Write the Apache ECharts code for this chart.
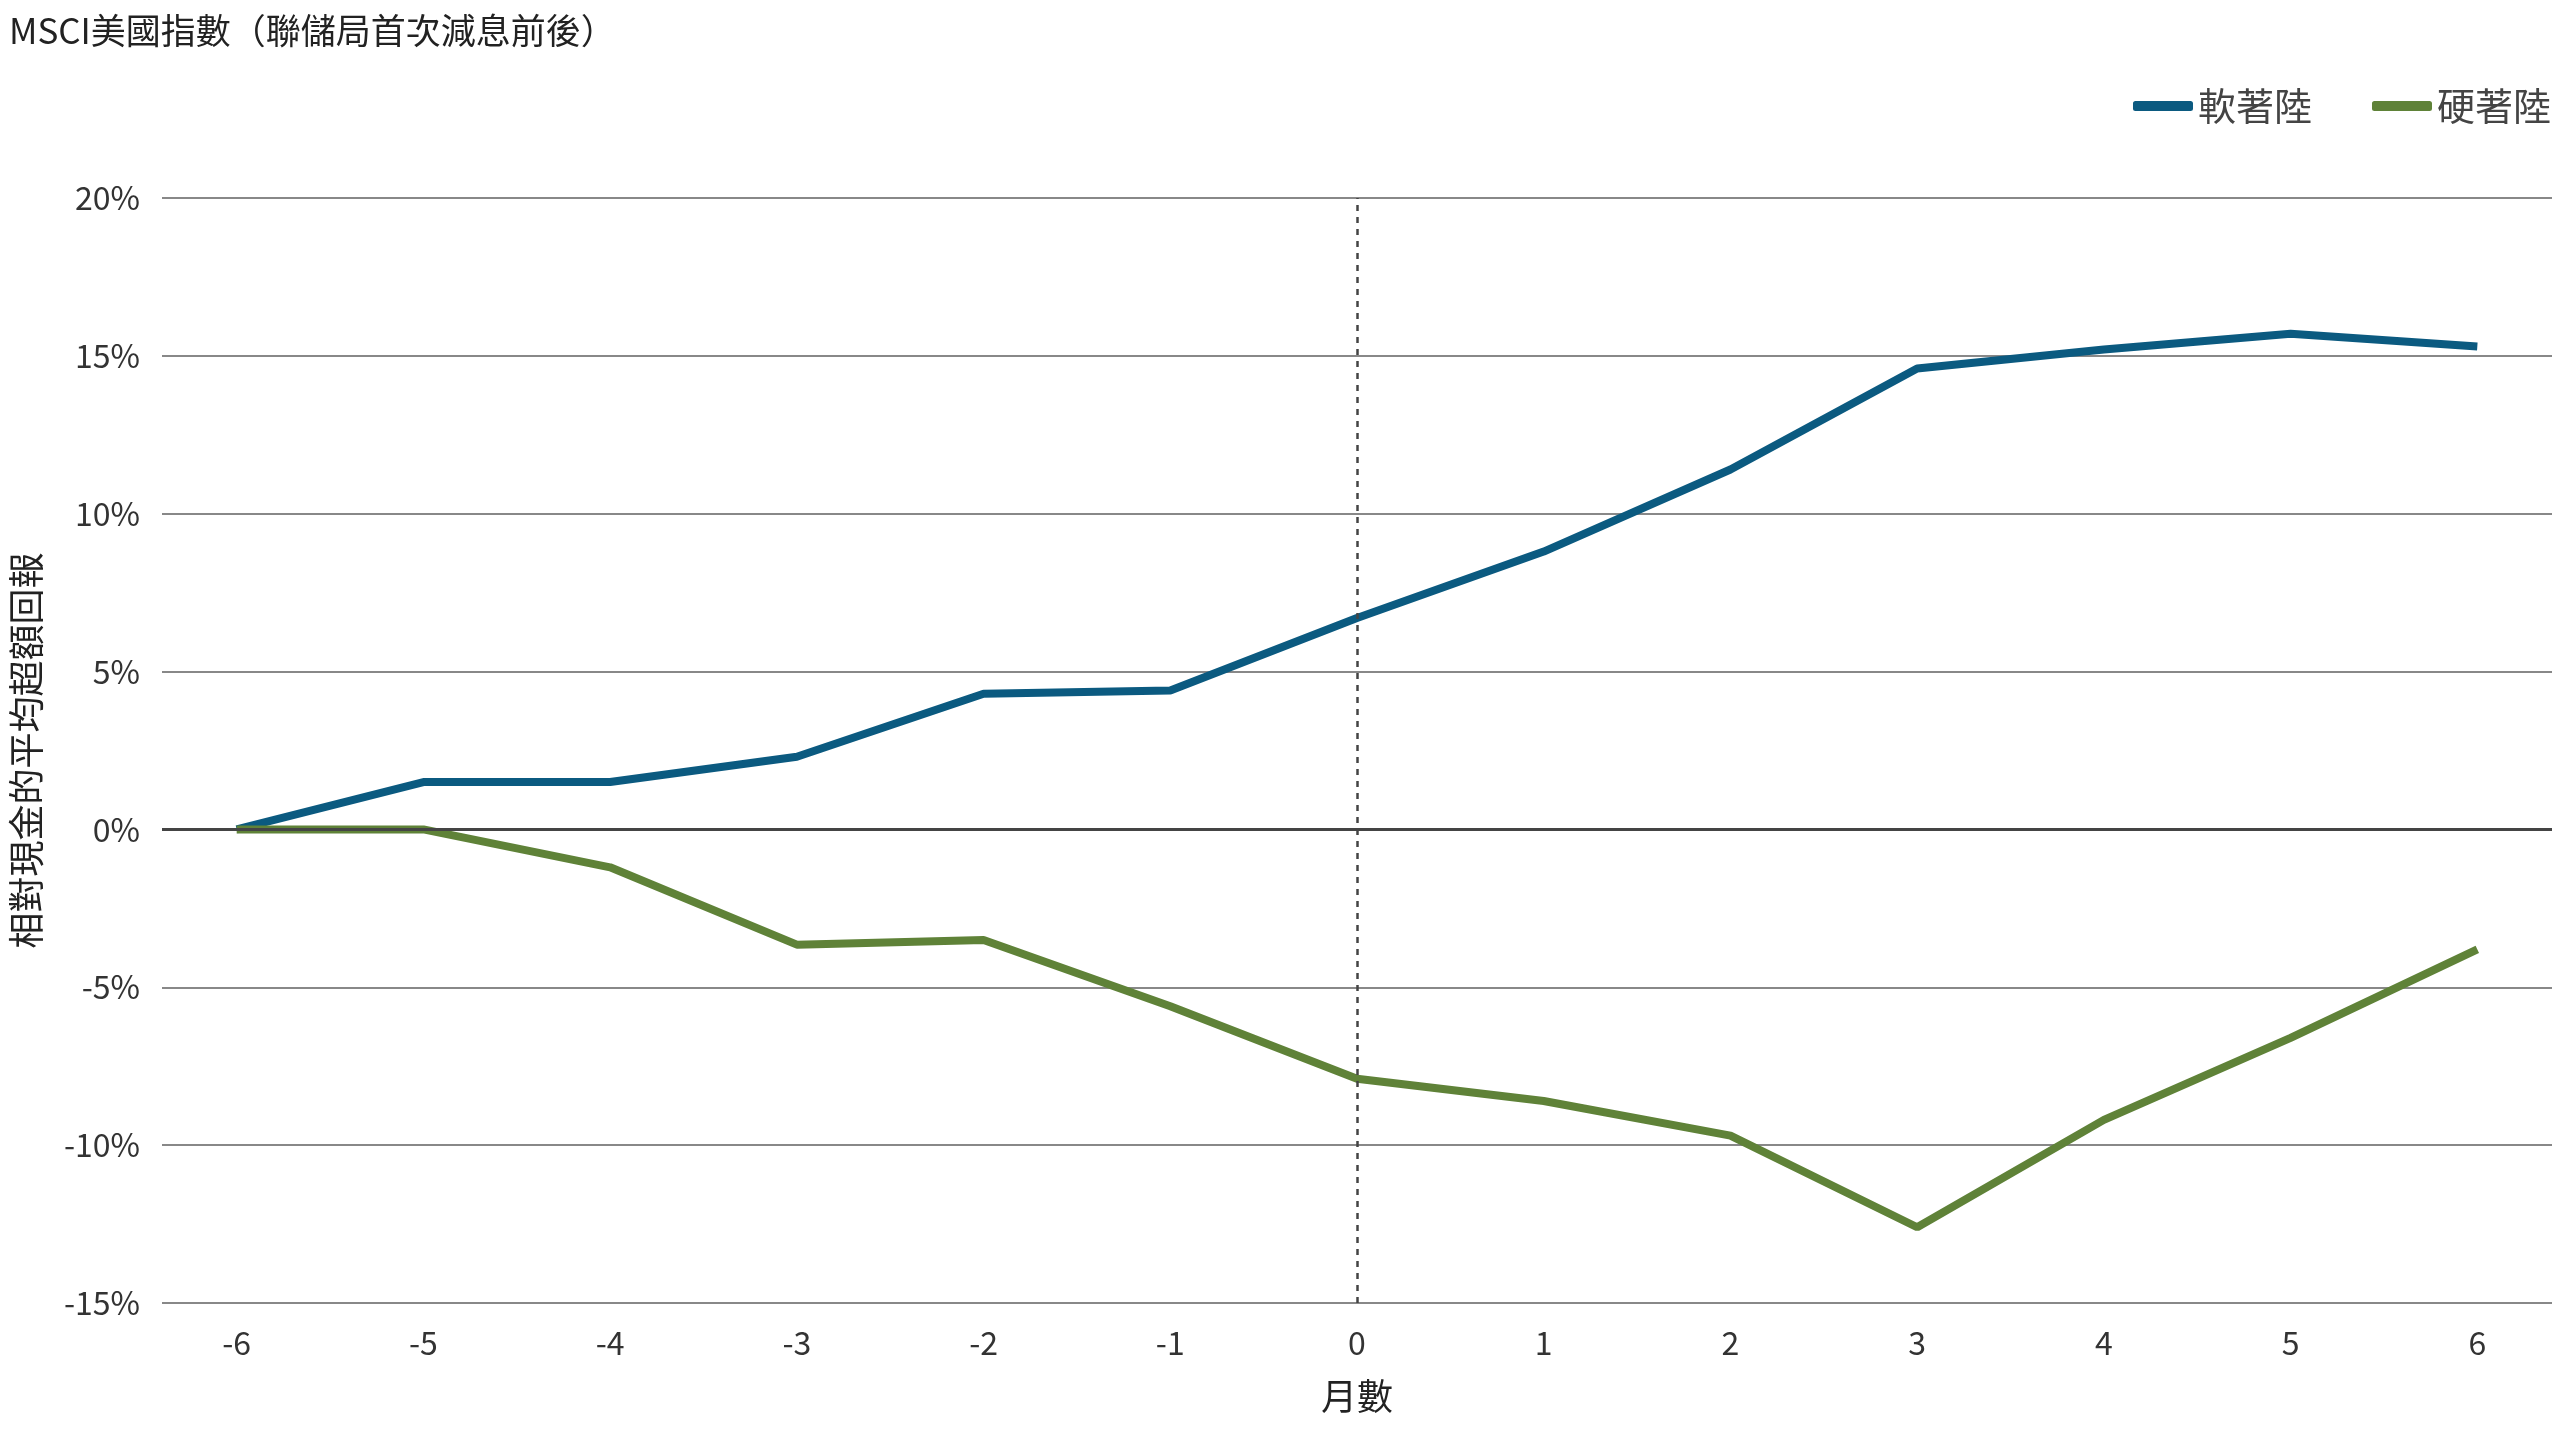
<!DOCTYPE html>
<html><head><meta charset="utf-8">
<script src="https://cdn.jsdelivr.net/npm/echarts@6/dist/echarts.min.js"></script>
<style>html,body{margin:0;padding:0;background:#fff}#c{width:2560px;height:1440px}</style>
</head><body><div id="c"></div>
<script>
const months=[-6,-5,-4,-3,-2,-1,0,1,2,3,4,5,6];
const softLanding=[0,1.5,1.5,2.3,4.3,4.4,6.7,8.8,11.4,14.6,15.2,15.7,15.3];
const hardLanding=[0,0,-1.2,-3.65,-3.5,-5.6,-7.9,-8.6,-9.7,-12.6,-9.2,-6.6,-3.8];
const yTicks=[-15,-10,-5,0,5,10,15,20];
const F='"Noto Sans CJK TC","Noto Sans",sans-serif';
const chart=echarts.init(document.getElementById('c'));
chart.setOption({
  animation:false,
  title:{text:'MSCI美國指數（聯儲局首次減息前後）',left:4,top:8,textStyle:{fontFamily:F,fontSize:35,fontWeight:'normal',color:'#222'}},
  legend:{right:4,top:82,itemWidth:60,itemHeight:10,itemGap:60,icon:'roundRect',textStyle:{fontFamily:F,fontSize:38,color:'#444'},data:['軟著陸','硬著陸']},
  grid:{left:155,right:8,top:198,bottom:137},
  xAxis:{type:'value',min:-6.4,max:6.4,name:'月數',nameLocation:'middle',nameGap:75,
    nameTextStyle:{fontFamily:F,fontSize:36,color:'#222'},
    axisLine:{show:false},axisTick:{show:false},splitLine:{show:false},
    axisLabel:{customValues:months,fontFamily:F,fontSize:32,color:'#333',margin:24}},
  yAxis:{type:'value',min:-15,max:20,interval:5,name:'相對現金的平均超額回報',nameLocation:'middle',nameGap:118,
    nameTextStyle:{fontFamily:F,fontSize:36,color:'#222'},
    axisLine:{show:false},axisTick:{show:false},
    axisLabel:{formatter:'{value}%',fontFamily:F,fontSize:32,color:'#333',margin:22},
    splitLine:{lineStyle:{color:'#888',width:2}}},
  series:[
    {name:'軟著陸',type:'line',data:months.map((m,i)=>[m,softLanding[i]]),symbol:'none',lineStyle:{width:8,color:'#0b5a80'},itemStyle:{color:'#0b5a80'},z:3,
     markLine:{silent:true,symbol:'none',label:{show:false},data:[{xAxis:0,lineStyle:{type:[6,6],color:'#444',width:2.5}},{yAxis:0,lineStyle:{type:'solid',color:'#444',width:3}}]}},
    {name:'硬著陸',type:'line',data:months.map((m,i)=>[m,hardLanding[i]]),symbol:'none',lineStyle:{width:8,color:'#5f8238'},itemStyle:{color:'#5f8238'},z:3}
  ]
});
</script></body></html>
